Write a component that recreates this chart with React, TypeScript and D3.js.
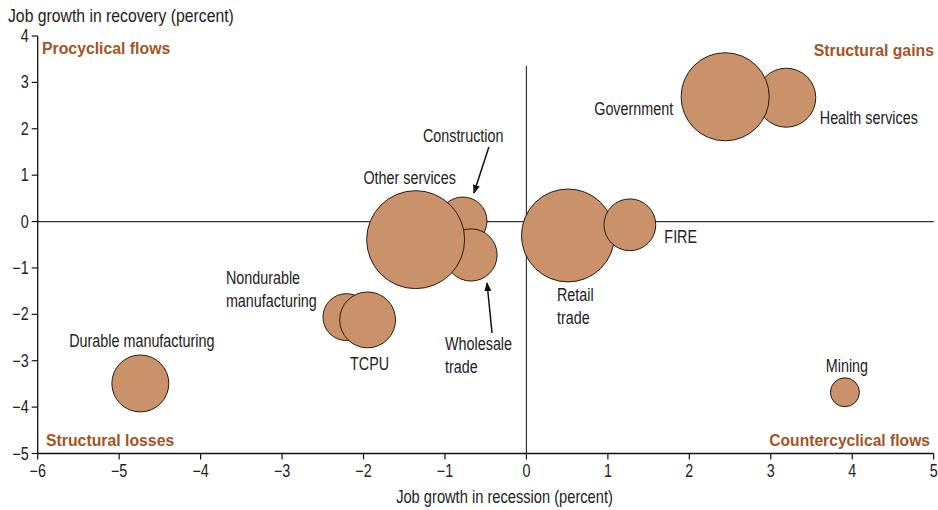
import React from "react";
import * as d3 from "d3";

const sectors = ["Health services", "Government", "Construction", "Wholesale trade", "Other services", "Nondurable manufacturing", "TCPU", "Durable manufacturing", "Mining", "Retail trade", "FIRE"];
const recessionGrowth = [3.19, 2.44, -0.78, -0.68, -1.36, -2.21, -1.95, -4.74, 3.91, 0.51, 1.27];
const recoveryGrowth = [2.67, 2.69, 0.01, -0.72, -0.39, -2.06, -2.12, -3.49, -3.68, -0.3, -0.07];
const employmentShare = [8.7, 19.4, 5.8, 6.8, 24, 5.5, 7.8, 8.1, 2.1, 21.6, 6.7];
const xTicks = [-6, -5, -4, -3, -2, -1, 0, 1, 2, 3, 4, 5];
const yTicks = [-5, -4, -3, -2, -1, 0, 1, 2, 3, 4];
const quadrantLabels = ["Procyclical flows", "Structural gains", "Structural losses", "Countercyclical flows"];

// label layout (pixel offsets from bubble centre)
const labelLayout: Record<string, { lines: string[]; dx: number; dy: number; anchor: string; arrow?: number[] }> = {
  "Health services": { lines: ["Health services"], dx: 33.5, dy: 26, anchor: "start" },
  Government: { lines: ["Government"], dx: -52, dy: 18, anchor: "end" },
  Construction: { lines: ["Construction"], dx: -40, dy: -79, anchor: "start", arrow: [26, -74, 11, -28] },
  "Wholesale trade": { lines: ["Wholesale", "trade"], dx: -26, dy: 95, anchor: "start", arrow: [21, 78, 16, 28] },
  "Other services": { lines: ["Other services"], dx: -6, dy: -56, anchor: "middle" },
  "Nondurable manufacturing": { lines: ["Nondurable", "manufacturing"], dx: -120.5, dy: -33, anchor: "start" },
  TCPU: { lines: ["TCPU"], dx: 2, dy: 50, anchor: "middle" },
  "Durable manufacturing": { lines: ["Durable manufacturing"], dx: 1.5, dy: -36, anchor: "middle" },
  Mining: { lines: ["Mining"], dx: 2, dy: -20, anchor: "middle" },
  "Retail trade": { lines: ["Retail", "trade"], dx: -11, dy: 66, anchor: "start" },
  FIRE: { lines: ["FIRE"], dx: 34.5, dy: 18.5, anchor: "start" },
};

const W = 938;
const H = 510;
const FONT = "'Liberation Sans', Arial, sans-serif";
const BUBBLE = "#C9926B";
const QCOL = "#A5541F";
const INK = "#222";
const FS = 17.5;
const SX = 0.82;

const fmt = (v: number) => (v < 0 ? "\u2212" + Math.abs(v) : String(v));

function T(props: { x: number; y: number; lines: string[]; anchor?: string; size?: number; sx?: number; bold?: boolean; color?: string; lh?: number }) {
  const { x, y, lines, anchor = "start", size = FS, sx = SX, bold = false, color = INK, lh = 23 } = props;
  return (
    <text
      transform={`translate(${x},${y}) scale(${sx},1)`}
      textAnchor={anchor}
      fontSize={size}
      fontWeight={bold ? "bold" : "normal"}
      fill={color}
    >
      {lines.map((ln, k) => (
        <tspan key={k} x={0} dy={k === 0 ? 0 : lh}>
          {ln}
        </tspan>
      ))}
    </text>
  );
}

export default function App() {
  const x = d3.scaleLinear().domain([-6, 5]).range([37.7, 933.7]);
  const y = d3.scaleLinear().domain([-5, 4]).range([453.5, 36]);
  const r = d3.scaleSqrt().domain([0, 24]).range([0, 49]);

  const data = sectors.map((s, i) => ({
    name: s,
    cx: x(recessionGrowth[i]),
    cy: y(recoveryGrowth[i]),
    rad: r(employmentShare[i]),
  }));

  const x0 = x(-6);
  const x1 = x(5);
  const yb = y(-5);

  return (
    <svg width={W} height={H} style={{ position: "absolute", left: 0, top: 0, background: "#fff" }} fontFamily={FONT}>
      <defs>
        <marker id="ah" viewBox="0 0 10 10" refX="9" refY="5" markerWidth="9" markerHeight="9" orient="auto" markerUnits="userSpaceOnUse">
          <path d="M0,1 L10,5 L0,9 Z" fill="#111" />
        </marker>
      </defs>
      {/* zero lines */}
      <line x1={x0} x2={x1} y1={y(0)} y2={y(0)} stroke="#333" strokeWidth={1.2} />
      <line x1={x(0)} x2={x(0)} y1={66} y2={yb} stroke="#333" strokeWidth={1.2} />

      {/* bubbles */}
      {data.map((d) => (
        <circle key={d.name} cx={d.cx} cy={d.cy} r={d.rad} fill={BUBBLE} stroke="#2a1a10" strokeWidth={1} />
      ))}

      {/* labels */}
      {data.map((d) => {
        const L = labelLayout[d.name];
        return (
          <g key={"l" + d.name}>
            <T x={d.cx + L.dx} y={d.cy + L.dy} lines={L.lines} anchor={L.anchor} />
            {L.arrow && (
              <line
                x1={d.cx + L.arrow[0]}
                y1={d.cy + L.arrow[1]}
                x2={d.cx + L.arrow[2]}
                y2={d.cy + L.arrow[3]}
                stroke="#111"
                strokeWidth={1.5}
                markerEnd="url(#ah)"
              />
            )}
          </g>
        );
      })}

      {/* axes */}
      <line x1={x0} x2={x0} y1={y(4)} y2={yb} stroke="#111" strokeWidth={1.3} />
      <line x1={x0} x2={x1} y1={yb} y2={yb} stroke="#111" strokeWidth={1.3} />
      {yTicks.map((t) => (
        <g key={"y" + t}>
          <line x1={x0 - 6} x2={x0} y1={y(t)} y2={y(t)} stroke="#111" strokeWidth={1.2} />
          <T x={x0 - 9} y={y(t) + 6} lines={[fmt(t)]} anchor="end" />
        </g>
      ))}
      {xTicks.map((t) => (
        <g key={"x" + t}>
          <line x1={x(t)} x2={x(t)} y1={yb} y2={yb + 6} stroke="#111" strokeWidth={1.2} />
          <T x={x(t)} y={yb + 23} lines={[fmt(t)]} anchor="middle" />
        </g>
      ))}
      <T x={8} y={22} lines={["Job growth in recovery (percent)"]} size={18} sx={0.875} />
      <T x={504.5} y={503} lines={["Job growth in recession (percent)"]} anchor="middle" size={18} sx={0.815} />

      {/* quadrant labels */}
      <T x={42} y={54} lines={[quadrantLabels[0]]} bold color={QCOL} size={17} sx={0.93} />
      <T x={934} y={56} lines={[quadrantLabels[1]]} anchor="end" bold color={QCOL} size={17} sx={0.93} />
      <T x={46} y={446} lines={[quadrantLabels[2]]} bold color={QCOL} size={17} sx={0.93} />
      <T x={930} y={446} lines={[quadrantLabels[3]]} anchor="end" bold color={QCOL} size={17} sx={0.92} />
    </svg>
  );
}
